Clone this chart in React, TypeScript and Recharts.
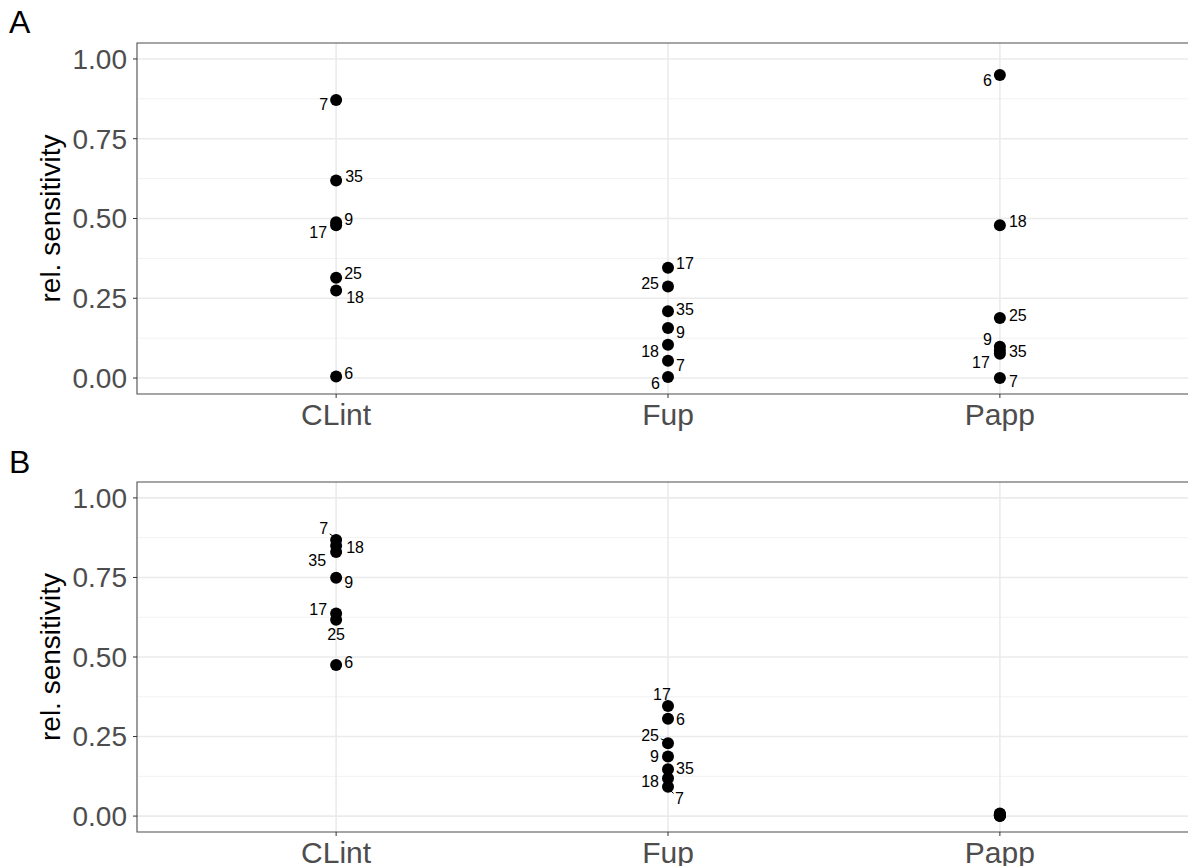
import React from 'react';
import {
  ScatterChart,
  Scatter,
  XAxis,
  YAxis,
  CartesianGrid,
  ReferenceArea,
} from 'recharts';

// parameters on the x axis and compound ids used as point labels
const params = ['CLint', 'Fup', 'Papp'];
const compounds = ['6', '7', '9', '17', '18', '25', '35'];

// panel A values, same order as compounds
const aClint = [0.005, 0.871, 0.488, 0.479, 0.274, 0.314, 0.619];
const aFup = [0.003, 0.054, 0.157, 0.346, 0.104, 0.287, 0.209];
const aPapp = [0.95, 0.0, 0.098, 0.076, 0.479, 0.188, 0.086];

// panel B values
const bClint = [0.475, 0.868, 0.749, 0.637, 0.85, 0.617, 0.83];
const bFup = [0.306, 0.092, 0.187, 0.346, 0.119, 0.229, 0.147];
const bPapp = [0.004, 0.0, 0.002, 0.006, 0.001, 0.003, 0.008];

const yTicks = [0, 0.25, 0.5, 0.75, 1];
const yMinor = [0.125, 0.375, 0.625, 0.875];

const FONT = '"Liberation Sans", Arial, Helvetica, sans-serif';

// label placement (like ggrepel output): [anchor, dx, dy, segment]
type Nudge = ['start' | 'end' | 'middle', number, number, boolean?] | null;

const nudgeA: Nudge[][] = [
  [['start', 8, -3], ['end', -8, 4], ['start', 8, -3], ['end', -9, 7], ['start', 10, 7], ['start', 8, -4], ['start', 9, -4]],
  [['end', -8, 6], ['start', 8, 5], ['start', 8, 5], ['start', 8, -4], ['end', -9, 7], ['end', -9, -3], ['start', 8, -2]],
  [['end', -8, 6], ['start', 9, 3], ['end', -8, -7], ['end', -10, 9], ['start', 9, -4], ['start', 9, -3], ['start', 9, 1]],
];

const nudgeB: Nudge[][] = [
  [['start', 8, -2], ['end', -8, -11, true], ['start', 8, 5], ['end', -9, -4], ['start', 10, 2], ['middle', 0, 15], ['end', -10, 8]],
  [['start', 8, 1], ['start', 7, 12, true], ['end', -9, 0], ['middle', -6, -12], ['end', -9, 3], ['end', -9, -8, true], ['start', 8, -1]],
  [null, null, null, null, null, null, null],
];

const buildRows = (series: number[][], nudges: Nudge[][]) =>
  series.flatMap((vals, i) =>
    vals.map((v, j) => ({ x: i + 1, y: v, label: compounds[j], nudge: nudges[i][j] }))
  );

const rowsA = buildRows([aClint, aFup, aPapp], nudgeA);
const rowsB = buildRows([bClint, bFup, bPapp], nudgeB);

const LabeledDot = (props: any) => {
  const { cx, cy, payload } = props;
  const n: Nudge = payload.nudge;
  let seg = null;
  if (n && n[3]) {
    const len = Math.hypot(n[1], n[2]) || 1;
    const ux = n[1] / len;
    const uy = n[2] / len;
    seg = (
      <line
        x1={cx + ux * 4}
        y1={cy + uy * 4}
        x2={cx + n[1] * 0.8}
        y2={cy + n[2] * 0.55}
        stroke="#000"
        strokeWidth={1}
      />
    );
  }
  return (
    <g>
      {seg}
      <circle cx={cx} cy={cy} r={6} fill="#000" />
      {n && (
        <text
          x={cx + n[1]}
          y={cy + n[2]}
          textAnchor={n[0]}
          dominantBaseline="central"
          fontSize={16}
          fontFamily={FONT}
          fill="#000"
        >
          {payload.label}
        </text>
      )}
    </g>
  );
};

const YTitle = (props: any) => {
  const vb = props.viewBox || { y: 0, height: 0 };
  const cy = vb.y + vb.height / 2;
  return (
    <text
      x={50}
      y={cy}
      transform={`rotate(-90 50 ${cy})`}
      textAnchor="middle"
      dominantBaseline="central"
      fontSize={28}
      fontFamily={FONT}
      fill="#000"
    >
      rel. sensitivity
    </text>
  );
};

const Panel = ({ rows, height }: { rows: any[]; height: number }) => (
  <ScatterChart
    width={1206}
    height={height + 43 + 46}
    margin={{ top: 43, right: 7, left: 0, bottom: 0 }}
  >
    <CartesianGrid
      horizontalValues={yMinor}
      vertical={false}
      stroke="#F2F2F2"
      strokeWidth={1}
    />
    <CartesianGrid
      horizontalValues={yTicks}
      verticalValues={[1, 2, 3]}
      stroke="#EBEBEB"
      strokeWidth={1.6}
    />
    <XAxis
      type="number"
      dataKey="x"
      domain={[0.4, 3.6]}
      ticks={[1, 2, 3]}
      allowDataOverflow
      tickFormatter={(v: number) => params[v - 1]}
      axisLine={false}
      tickSize={4}
      tickMargin={6}
      tickLine={{ stroke: '#333333' }}
      tick={{ fill: '#4D4D4D', fontSize: 30, fontFamily: FONT }}
      height={46}
    />
    <YAxis
      type="number"
      dataKey="y"
      domain={[-0.05, 1.05]}
      ticks={yTicks}
      allowDataOverflow
      tickFormatter={(v: number) => v.toFixed(2)}
      axisLine={false}
      tickSize={4}
      tickMargin={6}
      tickLine={{ stroke: '#333333' }}
      tick={{ fill: '#4D4D4D', fontSize: 28, fontFamily: FONT }}
      width={137}
      label={{ content: <YTitle /> }}
    />
    <ReferenceArea
      x1={0.4}
      x2={3.6}
      y1={-0.05}
      y2={1.05}
      fill="none"
      fillOpacity={0}
      stroke="#4D4D4D"
      strokeWidth={1.1}
    />
    <Scatter data={rows} shape={<LabeledDot />} isAnimationActive={false} />
  </ScatterChart>
);

const letterStyle: React.CSSProperties = {
  position: 'absolute',
  left: 9,
  fontFamily: FONT,
  fontSize: 32,
  color: '#000',
  lineHeight: 1,
};

export default function App() {
  return (
    <div
      style={{
        position: 'fixed',
        left: 0,
        top: 0,
        width: 1188,
        height: 866,
        overflow: 'hidden',
        background: '#fff',
      }}
    >
      <div style={{ position: 'absolute', left: 0, top: 0 }}>
        <Panel rows={rowsA} height={351} />
      </div>
      <div style={{ position: 'absolute', left: 0, top: 439 }}>
        <Panel rows={rowsB} height={350} />
      </div>
      <div style={{ ...letterStyle, top: 6 }}>A</div>
      <div style={{ ...letterStyle, top: 446 }}>B</div>
    </div>
  );
}
